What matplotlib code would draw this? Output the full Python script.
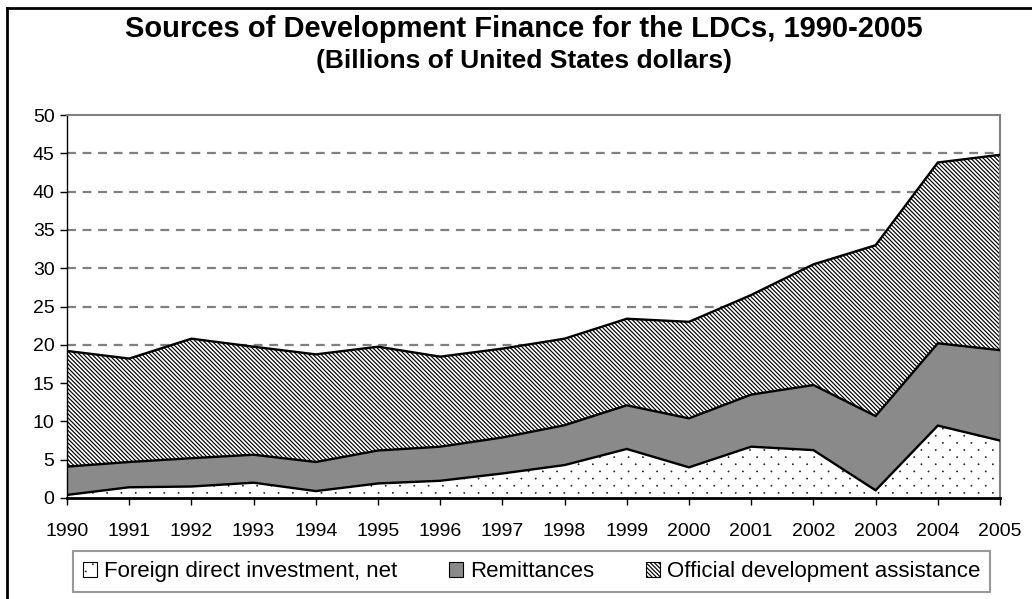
import matplotlib
matplotlib.use('Agg')
import matplotlib.pyplot as plt
import matplotlib.hatch as mhatch
from matplotlib.path import Path
import numpy as np
from matplotlib.patches import Patch
from matplotlib.lines import Line2D

# ---- data (billions of US dollars) ----
years = list(range(1990, 2006))
fdi = [0.4, 1.4, 1.5, 2.0, 0.9, 1.9, 2.25, 3.2, 4.3, 6.4, 4.0, 6.7, 6.25, 1.0, 9.45, 7.5]
remittances = [3.7, 3.3, 3.7, 3.65, 3.8, 4.3, 4.45, 4.7, 5.2, 5.7, 6.4, 6.8, 8.5, 9.7, 10.75, 11.8]
oda = [15.1, 13.5, 15.6, 14.1, 14.05, 13.55, 11.75, 11.6, 11.3, 11.3, 12.6, 13.0, 15.75, 22.3, 23.6, 25.5]
series_labels = ['Foreign direct investment, net', 'Remittances', 'Official development assistance']
y_ticks = list(range(0, 55, 5))
title = 'Sources of Development Finance for the LDCs, 1990-2005'
subtitle = '(Billions of United States dollars)'


# ---- sparse staggered dot texture (replaces the 'O' hatch) ----
class SparseDots(mhatch.HatchPatternBase):
    n = 7          # dots per hatch unit along a row
    radius = 0.003

    def __init__(self, hatch, density):
        self.active = 'O' in hatch
        circ = Path.unit_circle()
        self.cv = circ.vertices
        self.cc = circ.codes
        if self.active:
            n = self.n
            self.count = (n + 1) * (n + 1) + n * n
            self.num_vertices = self.count * len(self.cv)
        else:
            self.num_vertices = 0

    def set_vertices_and_codes(self, vertices, codes):
        n = self.n
        vparts, cparts = [], []
        for k in range(2 * n + 1):
            y = k / (2 * n)
            if k % 2 == 0:
                xs = [j / n for j in range(n + 1)]
            else:
                xs = [(j + 0.5) / n for j in range(n)]
            for x in xs:
                vparts.append(self.cv * self.radius + [x, y])
                cparts.append(self.cc)
        vertices[:] = np.concatenate(vparts)
        codes[:] = np.concatenate(cparts)


mhatch._hatch_types = [SparseDots if t is mhatch.LargeCircles else t
                       for t in mhatch._hatch_types]

plt.rcParams['font.family'] = ['Liberation Sans', 'DejaVu Sans']
plt.rcParams['hatch.linewidth'] = 0.85
plt.rcParams['hatch.color'] = 'black'

W, H = 1032, 599
fig = plt.figure(figsize=(W / 100, H / 100), dpi=100)
fig.patch.set_facecolor('white')

ax = fig.add_axes([67 / W, 1 - 498 / H, (1000 - 67) / W, (498 - 115) / H])

face = ['white', '#8a8a8a', 'white']
hatches = ['O', None, '\\' * 8]
polys = ax.stackplot(years, fdi, remittances, oda, colors=face, linewidth=0)
for p, h in zip(polys, hatches):
    if h:
        p.set_hatch(h)
    p.set_zorder(2)

# boundary lines
stack = np.cumsum(np.vstack([fdi, remittances, oda]), axis=0)
for row in stack:
    ax.plot(years, row, color='black', lw=1.7, zorder=3, solid_joinstyle='miter')

ax.set_xlim(1990, 2005)
ax.set_ylim(0, 50)
ax.set_xticks(years)
ax.set_xticklabels([str(y) for y in years])
ax.set_yticks(y_ticks)
ax.set_yticklabels([str(v) for v in y_ticks])
ax.tick_params(axis='both', direction='out', length=5, width=1, labelsize=14, colors='black')
ax.tick_params(axis='x', pad=13)
ax.tick_params(axis='y', pad=4)

ax.set_axisbelow(True)
for yv in y_ticks[1:-1]:
    ax.axhline(yv, color='#808080', lw=1.6, ls=(0, (4, 3)), zorder=1)

ax.spines['top'].set_color('#808080')
ax.spines['top'].set_linewidth(1.5)
ax.spines['right'].set_color('#808080')
ax.spines['right'].set_linewidth(1.5)
ax.spines['left'].set_color('black')
ax.spines['left'].set_linewidth(1.0)
ax.spines['bottom'].set_color('black')
ax.spines['bottom'].set_linewidth(2.0)
ax.spines['bottom'].set_zorder(4)

# titles
fig.text(524 / W, 1 - 29 / H, title, ha='center', va='center', fontsize=21, fontweight='bold')
fig.text(524 / W, 1 - 61 / H, subtitle, ha='center', va='center', fontsize=19, fontweight='bold')

# legend
handles = [Patch(facecolor=c, edgecolor='black', hatch=h, lw=0.8, label=l)
           for c, h, l in zip(face, hatches, series_labels)]
leg = fig.legend(handles=handles, loc='center', ncol=3, mode='expand',
                 bbox_to_anchor=(73 / W, 1 - 595 / H, (990 - 73) / W, (595 - 548) / H),
                 bbox_transform=fig.transFigure, fontsize=16, frameon=True,
                 fancybox=False, handlelength=0.65, handleheight=0.65, handletextpad=0.3,
                 borderpad=0.45, borderaxespad=0)
leg.get_frame().set_edgecolor('#808080')
leg.get_frame().set_linewidth(1.5)

# outer frame (left and top edges visible)
fig.add_artist(Line2D([7 / W, 7 / W], [0, 1 - 8 / H], transform=fig.transFigure, color='black', lw=2))
fig.add_artist(Line2D([7 / W, 1], [1 - 8 / H, 1 - 8 / H], transform=fig.transFigure, color='black', lw=2))

fig.savefig('out.png', dpi=100)
